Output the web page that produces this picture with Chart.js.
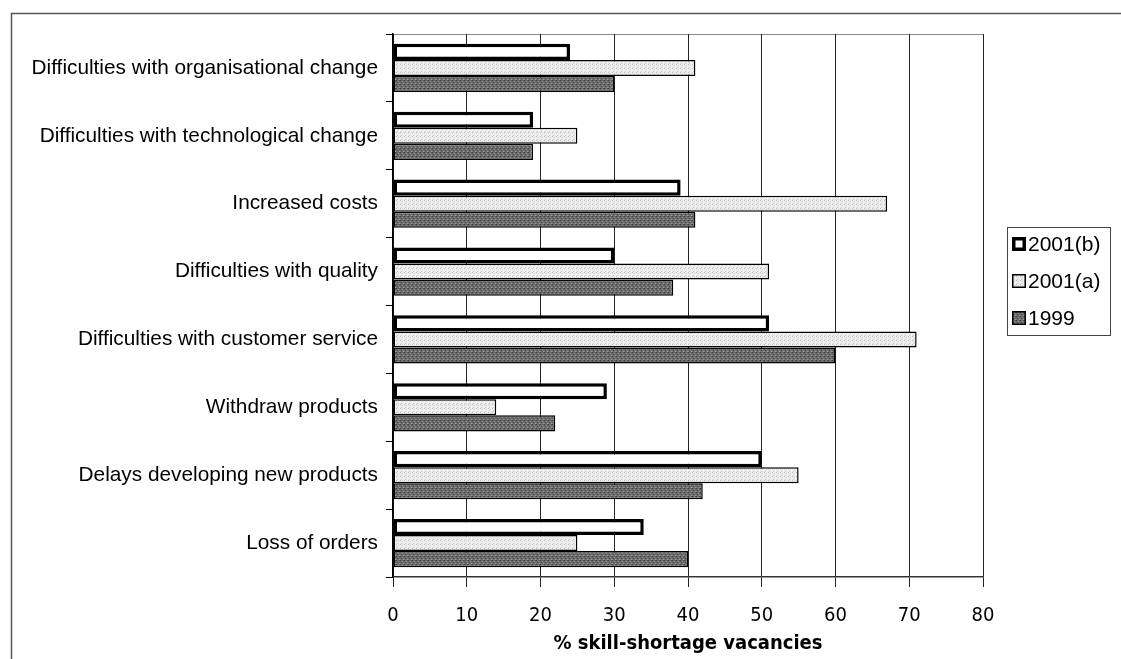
<!DOCTYPE html>
<html>
<head>
<meta charset="utf-8">
<script src="https://cdn.jsdelivr.net/npm/chart.js@4.4.1/dist/chart.umd.min.js"></script>
<style>
html,body{margin:0;padding:0;background:#fff;}
#wrap{width:1121px;height:659px;position:relative;}
</style>
</head>
<body>
<div id="wrap"><canvas id="c" width="1121" height="659"></canvas></div>
<script>
// ---- data ----
const categories = [
  'Difficulties with organisational change',
  'Difficulties with technological change',
  'Increased costs',
  'Difficulties with quality',
  'Difficulties with customer service',
  'Withdraw products',
  'Delays developing new products',
  'Loss of orders'
];
const series2001b = [24, 19, 39, 30, 51, 29, 50, 34];
const series2001a = [41, 25, 67, 51, 71, 14, 55, 25];
const series1999  = [30, 19, 41, 38, 60, 22, 42, 40];
const seriesLabels = ['2001(b)', '2001(a)', '1999'];
const xTickValues = [0, 10, 20, 30, 40, 50, 60, 70, 80];
const xTitle = '% skill-shortage vacancies';

// ---- stipple patterns (fixed, hand-made) ----
function makePattern(base, dots) {
  const p = document.createElement('canvas');
  p.width = 4; p.height = 4;
  const g = p.getContext('2d');
  g.fillStyle = base; g.fillRect(0, 0, 4, 4);
  dots.forEach(d => { g.fillStyle = d[2]; g.fillRect(d[0], d[1], 1, 1); });
  return g.createPattern(p, 'repeat');
}
const ctx = document.getElementById('c').getContext('2d');
const lightFill = makePattern('#ececec', [[0,0,'#c0c0c0'],[2,1,'#d4d4d4'],[1,3,'#cbcbcb'],[3,2,'#fafafa']]);
const darkFill = makePattern('#6a6a6a', [[0,0,'#3c3c3c'],[2,1,'#929292'],[1,2,'#4a4a4a'],[3,3,'#a0a0a0'],[3,0,'#555555'],[0,3,'#808080']]);

const fills = ['#ffffff', lightFill, darkFill];
const borders = [3.5, 1.5, 1.5];

const frameAndLegend = {
  id: 'frameAndLegend',
  beforeDraw(chart) {
    const c = chart.ctx;
    c.save();
    c.fillStyle = '#ffffff';
    c.fillRect(0, 0, chart.width, chart.height);
    c.strokeStyle = '#555';
    c.lineWidth = 1.5;
    c.beginPath();
    c.moveTo(11.5, chart.height); c.lineTo(11.5, 13.5); c.lineTo(chart.width, 13.5);
    c.stroke();
    const a = chart.chartArea;
    c.strokeStyle = '#888';
    c.lineWidth = 1;
    c.beginPath();
    c.moveTo(a.left, a.top + 0.5); c.lineTo(a.right, a.top + 0.5);
    c.stroke();
    c.restore();
  },
  afterDraw(chart) {
    const c = chart.ctx;
    c.save();
    c.strokeStyle = '#444';
    c.lineWidth = 1;
    c.strokeRect(1007.5, 227.5, 103, 108);
    c.font = '21px "Liberation Sans", Arial, sans-serif';
    c.textBaseline = 'middle';
    chart.data.datasets.forEach((ds, i) => {
      const yc = 244 + 37 * i;
      const bw = ds.borderWidth;
      c.fillStyle = ds.backgroundColor;
      c.fillRect(1012, yc - 7, 14, 14);
      c.strokeStyle = '#000';
      c.lineWidth = bw;
      c.strokeRect(1012 + bw / 2, yc - 7 + bw / 2, 14 - bw, 14 - bw);
      c.fillStyle = '#000';
      c.fillText(ds.label, 1028, yc + 1);
    });
    c.restore();
  }
};

new Chart(ctx, {
  type: 'bar',
  data: {
    labels: categories,
    datasets: [
      { label: seriesLabels[0], data: series2001b, backgroundColor: fills[0], borderColor: '#000', borderWidth: borders[0], borderSkipped: false },
      { label: seriesLabels[1], data: series2001a, backgroundColor: fills[1], borderColor: '#000', borderWidth: borders[1], borderSkipped: false },
      { label: seriesLabels[2], data: series1999,  backgroundColor: fills[2], borderColor: '#000', borderWidth: borders[2], borderSkipped: false }
    ]
  },
  options: {
    indexAxis: 'y',
    responsive: false,
    animation: false,
    devicePixelRatio: 1,
    layout: { padding: { left: 12, top: 34, right: 138, bottom: 3 } },
    datasets: { bar: { barPercentage: 1.0, categoryPercentage: 0.71 } },
    plugins: {
      legend: { display: false },
      tooltip: { enabled: false }
    },
    scales: {
      x: {
        type: 'linear',
        min: 0, max: 80,
        afterBuildTicks(scale) { scale.ticks = xTickValues.map(v => ({ value: v })); },
        afterFit(scale) { scale.height = 79; },
        grid: { color: '#222', lineWidth: 1, tickLength: 10, drawTicks: true },
        border: { display: true, color: '#333', width: 1.5 },
        ticks: {
          color: '#000',
          padding: 17,
          font: { family: '"DejaVu Sans Condensed", "Liberation Sans", Arial, sans-serif', size: 20 }
        },
        title: {
          display: true,
          text: xTitle,
          color: '#000',
          padding: { top: 0, bottom: 0 },
          font: { family: '"DejaVu Sans Condensed", "Liberation Sans", Arial, sans-serif', size: 20, weight: 'bold' }
        }
      },
      y: {
        type: 'category',
        afterFit(scale) { scale.width = 393 - 12; },
        grid: { offset: true, drawOnChartArea: false, color: '#000', tickLength: 7 },
        border: { display: true, color: '#000', width: 1.5 },
        ticks: {
          color: '#000',
          padding: 8,
          font: { family: '"Liberation Sans", Arial, sans-serif', size: 20.8 }
        }
      }
    }
  },
  plugins: [frameAndLegend]
});
</script>
</body>
</html>
